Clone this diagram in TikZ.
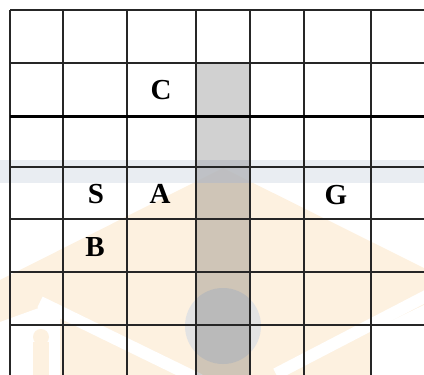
\documentclass[tikz,border=0pt]{standalone}
\usepackage{fontspec}
\setmainfont{Liberation Serif}
\usepackage{xcolor}
\usetikzlibrary{arrows.meta}
\definecolor{wmorange}{HTML}{FDF1E0}
\definecolor{wmgrey}{HTML}{E3E3E3}
\definecolor{wmblue}{HTML}{E4E8EF}

\begin{document}
\begin{tikzpicture}[x=1pt,y=-1pt,
  lbl/.style={font=\bfseries\fontsize{29}{31}\selectfont,inner sep=0pt},
  thin grid/.style={line width=1.3pt,black!85},
  thick grid/.style={line width=3pt}]
\useasboundingbox(0,0)rectangle(424,375);
% watermark in the background
\fill[wmorange](223,168)--(424,268)--(424,375)--(0,375)--(0,280)--cycle;
\fill[white](0,322)--(47,305)--(60,311)--(60,375)--(0,375)--cycle;
\fill[white](424,305)--(372,330)--(372,375)--(424,375)--cycle;
\draw[white,line width=12pt](40,302)--(200,380)
(430,294)--(276,374);
\fill[wmorange](33,342)rectangle(49,375);
\fill[wmorange](41,337)circle(8);
\fill[wmgrey](223,326)circle(38);
\fill[wmblue,opacity=0.8](0,160)rectangle(424,183);
% shaded column
\fill[black,opacity=0.18](196,63)rectangle(250,375);
% grid
\draw[thin grid](10,10)--(10,375) (63,10)--(63,375) (127,10)--(127,375)
(196,10)--(196,375) (250,10)--(250,375) (304,10)--(304,375) (371,10)--(371,375);
\draw[thin grid](10,10)--(424,10) (10,63)--(424,63) (10,167)--(424,167)
(10,219)--(424,219) (10,272)--(424,272) (10,325)--(424,325);
\draw[thick grid](10,116)--(424,116);
% cells
\node[lbl](c) at (161,90) {C};
\node[lbl](s) at (96,194) {S};
\node[lbl](a) at (160,194) {A};
\node[lbl](g) at (336,195) {G};
\node[lbl](b) at (95,247) {B};
\end{tikzpicture}
\end{document}
